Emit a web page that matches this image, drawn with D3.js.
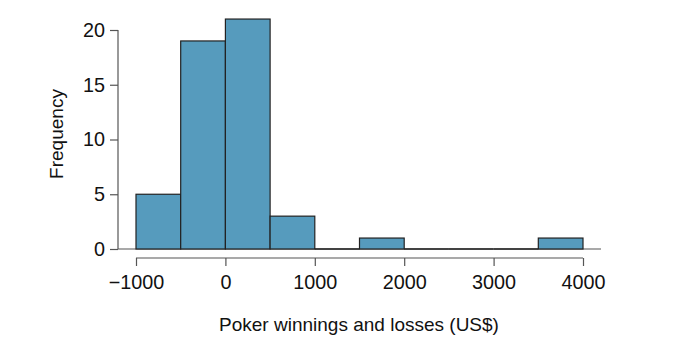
<!DOCTYPE html>
<html><head><meta charset="utf-8">
<script src="https://cdn.jsdelivr.net/npm/d3@7"></script>
<style>body{margin:0;background:#fff}svg{display:block}text{font-family:"Liberation Sans",Arial,Helvetica,sans-serif}</style>
</head><body><svg id="c" width="679" height="357"></svg>
<script>
const binStarts = [-1000,-500,0,500,1000,1500,2000,2500,3000,3500];
const binWidth = 500;
const counts = [5,19,21,3,0,1,0,0,0,1];
const xTicks = [-1000,0,1000,2000,3000,4000];
const yTicks = [0,5,10,15,20];
const xTitle = "Poker winnings and losses (US$)";
const yTitle = "Frequency";

const svg = d3.select("#c");
const x = d3.scaleLinear().domain([-1000,4000]).range([136,583]);
const y = d3.scaleLinear().domain([0,20]).range([249,30]);
const FS = 19, TFS = 19.8;

// baseline
svg.append("line").attr("x1",118).attr("x2",601).attr("y1",y(0)).attr("y2",y(0))
  .attr("stroke","#555").attr("stroke-width",1.2);

svg.selectAll("rect.bar").data(binStarts.filter((d,i)=>counts[i]>0)).join("rect").attr("class","bar")
  .attr("x",d=>x(d)).attr("width",d=>x(d+binWidth)-x(d))
  .attr("y",d=>y(counts[binStarts.indexOf(d)])).attr("height",d=>y(0)-y(counts[binStarts.indexOf(d)]))
  .attr("fill","#569BBD").attr("stroke","#222").attr("stroke-width",1.2);
// zero-height bins drawn as a line
svg.selectAll("line.zero").data(binStarts.filter((d,i)=>counts[i]===0)).join("line").attr("class","zero")
  .attr("x1",d=>x(d)).attr("x2",d=>x(d+binWidth)).attr("y1",y(0)).attr("y2",y(0))
  .attr("stroke","#222").attr("stroke-width",1.4);

// y axis
const ya = svg.append("g").attr("transform","translate(118,0)")
  .call(d3.axisLeft(y).tickValues(yTicks).tickSize(8).tickPadding(5));
ya.select(".domain").attr("stroke","#555").attr("stroke-width",1.2).attr("d","M0,"+y(0)+"V"+y(20));
ya.selectAll(".tick line").attr("stroke","#555").attr("stroke-width",1.2);
ya.selectAll("text").attr("font-size",TFS).attr("fill","#111").attr("font-family","Liberation Sans, Arial, sans-serif");

// x axis
const xa = svg.append("g").attr("transform","translate(0,258)")
  .call(d3.axisBottom(x).tickValues(xTicks).tickSize(8).tickPadding(9).tickFormat(d=>d<0?"\u2212"+Math.abs(d):d));
xa.select(".domain").attr("stroke","#555").attr("stroke-width",1.2).attr("d","M"+x(-1000)+",0H"+x(4000));
xa.selectAll(".tick line").attr("stroke","#555").attr("stroke-width",1.2);
xa.selectAll("text").attr("font-size",TFS).attr("fill","#111").attr("font-family","Liberation Sans, Arial, sans-serif");

svg.append("text").attr("x",359).attr("y",331).attr("text-anchor","middle")
  .attr("font-size",FS).attr("fill","#111").text(xTitle);
svg.append("text").attr("transform","translate(63,134) rotate(-90)").attr("text-anchor","middle")
  .attr("font-size",FS).attr("fill","#111").text(yTitle);
</script></body></html>
